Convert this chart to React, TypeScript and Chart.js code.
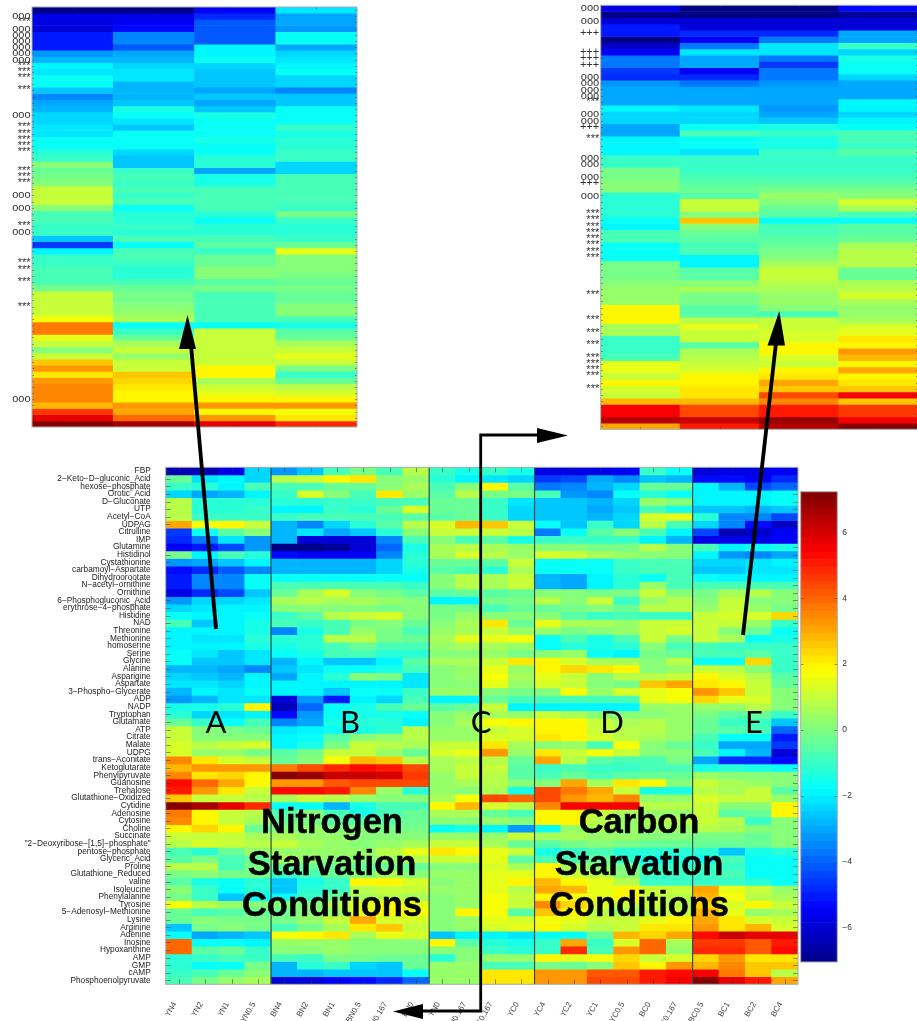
import React, { useEffect, useRef } from "react";
import { Chart, registerables } from "chart.js";

Chart.register(...registerables);

const columnLabels = ["YN4","YN2","YN1","YN0.5","BN4","BN2","BN1","BN0.5","BN0.167","BN0","YN0","YN0.167","YC0.167","YC0","YC4","YC2","YC1","YC0.5","BC0","BC0.167","BC0.5","BC1","BC2","BC4"];
const groupStarts = [4, 10, 14, 20];
const metaboliteLabels = ["FBP","2−Keto−D−gluconic_Acid","hexose−phosphate","Orotic_Acid","D−Gluconate","UTP","Acetyl−CoA","UDPAG","Citrulline","IMP","Glutamine","Histidinol","Cystathionine","carbamoyl−Aspartate","Dihydroorootate","N−acetyl−ornithine","Ornithine","6−Phosphogluconic_Acid","erythrose−4−phosphate","Histidine","NAD","Threonine","Methionine","homoserine","Serine","Glycine","Alanine","Asparigine","Aspartate","3−Phospho−Glycerate","ADP","NADP","Tryptophan","Glutamate","ATP","Citrate","Malate","UDPG","trans−Aconitate","Ketoglutarate","Phenylpyruvate","Guanosine","Trehalose","Glutathione−Oxidized","Cytidine","Adenosine","Cytosine","Choline","Succinate","\"2−Deoxyribose−[1,5]−phosphate\"","pentose−phosphate","Glyceric_Acid","Proline","Glutathione_Reduced","valine","Isoleucine","Phenylalanine","Tyrosine","5−Adenosyl−Methionine","Lysine","Arginine","Adenine","Inosine","Hypoxanthine","AMP","GMP","cAMP","Phosphoenolpyruvate"];

const rowFBP = [-6.5,-6.5,-5.7,-2.3, -3.3,-2.6,-0.8,-0.2,-0.9,0.7, -1,-1.4,-1,-1.5, -5.8,-5.8,-5.8,-5.5,-1,-1.8, -6,-5.8,-5.8,-5.5];
const rowKeto = [-0.3,-2.2,-1.9,-2.4, 0.8,0.9,2,2.1,0.2,0.3, -1.3,-1.9,-2.2,-2.4, -4.7,-4.4,-3,-3.6,-2.6,-2.8, -5.3,-5.2,-5.4,-4.8];
const rowHexose = [-1,-1.3,-1.9,-0.9, -0.7,-0.7,-0.3,-0.3,0.1,0.5, -0.7,0.2,1.8,-0.5, -3.7,-3.4,-2.9,-2.3,-0.3,-0.4, -2,-2.9,-4.4,-4];
const rowOrotic = [-2.4,-3,-2.8,-2, -1.1,1.2,0.2,-0.7,2.2,0.4, -0.5,0.7,-0.1,-0.2, -0.7,-3.2,-3.5,-1.8,-1.2,-1.8, -1.9,-1.9,-1.9,-1.8];
const rowGluconate = [0.8,-1.2,-1.2,-1.2, -1.2,-1.2,-1,-1,-0.9,-0.8, -0.4,-0.3,-1,-2.2, -2.6,-2.7,-2.9,-2.4,0.3,0.1, -1.9,-1.9,-1.9,-1.6];
const rowUTP = [0.7,-1.2,-1.2,-1.1, -1.9,-2,-1,-1.3,-0.3,1.3, -0.4,-0.3,-1,-2.3, -2.7,-2.7,-3,-2.5,-0.7,-1.4, -2.6,-2.7,-2.8,-2.7];
const rowAcetyl = [0.7,-1.1,-1.1,-1.1, -1,-0.9,-0.8,-0.8,-0.7,-0.6, -0.5,-0.4,-1,-2.3, -2.6,-2.6,-2.9,-2.4,1.3,1.5, -1.2,-3.5,-3.5,-4.5];
const rowUDPAG = [3.1,1.6,2,0.9, -2.9,-3.4,-2.3,-1.3,-0.5,0.7, 1.2,2.9,2.5,0.9, -1.7,-2.5,-1,-2.3,0.7,-0.8, -2.3,-3.4,-5.2,-6.3];
const rowCitrulline = [-4.7,-1.8,-0.5,0, -2.8,-2.2,-3,-2.5,-1.3,0, 0.9,1,1.1,0.8, -3.7,-1.8,-0.5,0.2,-0.8,-2, -4.5,-6.5,-6.2,-5.6];
const rowIMP = [-4.8,-3.8,-2.2,-3.2, -2.8,-6,-6,-6,-3.4,-0.8, 0.2,-0.9,-0.5,-1.4, -1,-1,-1,-1,-2,-2.9, -5.8,-5.8,-5.8,-5.4];
const rowGlutamine = [-5.6,-5,-4.3,-3.2, -7,-7,-6.8,-6,-4,-1.5, 0.5,0.8,0.5,0.3, 0,0,-0.2,-0.1,0.7,0, -0.8,-1.9,-1.8,-1.5];
const rowHistidinol = [-0.1,-2,-0.9,-1.2, -5.2,-5.6,-5.6,-5.4,-3.6,-1.3, 0.6,1.2,0.7,0.4, 1.2,1,0.5,0.4,0.2,0.2, -2,-3.2,-3.4,-3];
const rowCystathionine = [-3.3,-3,-2.5,-1.9, -2.9,-2.9,-2.9,-2.9,-2.3,-1.2, -0.3,-0.4,-0.6,1.1, -1.6,-1.6,-1.7,-1,-0.7,-0.7, -2.4,-2.4,-2.2,-2];
const rowCarbamoyl = [-5.2,-4.9,-4.2,-3.4, -2.9,-2.9,-2.9,-2.9,-2.4,-1.4, -0.5,-0.9,-1.2,0.6, -1.6,-1.6,-1.6,-1,-0.9,-0.8, -2.5,-2.5,-2.2,-2.1];
const rowDihydro = [-5,-3.6,-3.5,-1.7, -1.8,-1.8,-1.8,-1.8,-1.8,-1.8, 0.1,0.7,0.5,1.1, -2.8,-3,-2,-1.2,-1.7,-0.9, -1.6,-1.9,-1.9,-1.9];
const rowAcetylOrn = [-5,-3.6,-3.5,-1.7, -0.9,-0.8,-0.8,-0.8,-0.9,-1.1, 0.1,0.7,0.5,1.1, -2.8,-3,-2,-1.2,0.4,-0.7, -0.9,-0.9,-0.9,-0.9];
const rowOrnithine = [-5.8,-4.9,-4.4,-2.7, -0.4,0.5,1.3,0.1,-0.1,-0.5, -0.5,-0.4,-0.6,-0.4, 0,0,-0.1,-0.2,1,0, -0.1,0.6,0.7,0];
const rowPhosphoglu = [-3.3,-2.4,-2.3,-2.2, 0.6,0.7,0.5,0.5,0.3,0.2, -1.9,-1.9,-0.2,-0.1, 0.7,0.1,0.9,-1,0.4,0.8, 0.1,1,0.2,0];
const rowErythrose = [-2.3,-2.1,-1.9,-1.9, 0.1,0.1,0.1,0.1,-0.1,0.1, -0.2,-0.2,-0.9,-0.4, -0.4,-0.1,0.2,-0.3,0.7,0.7, 0.4,1,0.3,-0.1];
const rowHistidine = [-1.6,-1.9,-1.9,-1.8, -1,-0.6,0.7,1,1.3,0, -0.1,0.4,0,0.2, 0.2,-0.5,-1,-0.9,-1,-1, 0.9,1.3,1.2,2.3];
const rowNAD = [-0.9,-2.5,-1.9,-1.5, -0.9,-1.1,-0.9,-0.1,0.1,-0.4, 0,0.5,2.1,-0.3, 1.4,0.6,0.5,0.4,1,0.9, 1.1,1.1,0.4,-1.1];
const rowThreonine = [-1.9,-2,-1.9,-1.5, -3.4,-1.4,-0.7,0.4,-0.1,-0.7, 0.4,0.6,0.9,0.3, 0.3,-0.2,0.1,0.4,1.1,1.2, 1,0,-0.4,-1.6];
const rowMethionine = [-1.9,-2.1,-2.2,-1.3, -1.3,-1.2,0.7,0.8,-0.2,-0.3, 0.6,1.5,1.5,1.6, -1.6,-0.9,-1.5,-0.7,1,-0.1, 1,0.5,-1.7,-1.5];
const rowHomoserine = [-2,-1.9,-2,-1.5, -1.5,-1.3,-0.7,-0.3,-0.8,-0.9, 0.4,0.5,0.5,0.4, -1.6,-1.3,-1.5,-1.2,0,-0.7, -0.8,-1,-1.1,-1];
const rowSerine = [-1.8,-2.2,-2.5,-2.1, -1.6,-1.5,-0.9,-0.9,-1.3,-1.3, 0,0.1,0.3,-0.2, 0.2,0.4,-1.8,-1.9,-0.2,-0.3, -0.8,-0.7,-0.6,-1];
const rowGlycine = [-1.8,-2.5,-2.5,-2.2, -2.8,-1.9,-2.6,-2.5,-1.9,-0.5, 0.6,0.5,0.9,2.1, 1.9,1.2,0.6,0.6,0.1,0.7, -1.8,-1.8,2.3,-1];
const rowAlanine = [-2.9,-2.8,-3,-3.4, -2.5,-2.2,-1.7,-1.7,-1.5,-0.9, 0.2,0.4,1.5,0.4, 1.9,2.3,2.1,2,0.2,0.3, 1,0.7,0.1,-1.1];
const rowAsparigine = [-2.4,-2.5,-2.8,-2, -3,-1.9,-1.2,0,-0.2,-2.2, 0.1,0.3,1.6,0.6, 1.5,1.1,0.2,0.8,0.8,1, 1.8,1.2,0.7,-0.5];
const rowAspartate = [-2.2,-2.2,-2.3,-1.9, -2,-2,-2,-1.9,-1.9,-2.1, 0.1,0.1,1.5,0.4, 1.3,1,0,-0.2,2.5,3, 2.1,2,0.9,-0.3];
const rowPhosphoGly = [-2.8,-1.9,-2.2,-1.7, -2,-2,-2.5,-1.7,-1.6,-1, 0.4,0.3,0.1,-0.2, 0,1.6,0.3,1.3,1.4,1.6, 3.3,2.5,1,0];
const rowADP = [-3.2,-2.9,-2.2,-2.1, -6,-3.3,-5,-1.9,-2.3,-0.9, -1.9,-1.9,-0.4,-0.7, -0.8,-0.8,-0.8,-0.8,1.5,1.7, 2.3,1.5,1.3,0];
const rowNADP = [-1.5,-1.4,-1.2,2, -6.5,-4,-1.8,-1.5,-0.7,-0.3, -0.5,-0.4,0.9,-1.9, -1.9,-1.9,-1.9,-1.9,0.3,0.3, 0.4,0.4,0.7,0];
const rowTryptophan = [-1.2,-2.3,-2.2,-1.9, -5.2,-3.3,-1.7,-1.5,-1.4,-1.6, 0.1,0.3,0.5,0.3, 1.1,0.5,0.2,0.1,0.2,0.4, -0.1,-0.5,-0.4,-1];
const rowGlutamate = [-0.4,-1,-1.7,-0.8, -3.4,-3,-1.5,-1.3,-1.3,-1.9, 0.2,0.5,1.7,1.8, 2,1.9,0.9,0.5,0.7,0.3, -0.3,-1,-1,-2.7];
const rowATP = [1,0,-0.2,-0.3, -2.2,-2,-1.7,-1.5,-1.3,0.8, 0.3,0.3,1,1.2, 2,1.9,1,0.8,0.7,0.4, -0.4,-0.5,-0.8,-4];
const rowCitrate = [1,0.2,0.1,0.2, -2,-1.7,-0.5,0.1,0.3,0.7, 0.3,0.4,1.2,1.2, 2.2,2,1.2,0.8,0.6,0.3, -0.9,-1.7,-1.7,-5];
const rowMalate = [1.3,0.7,0.9,1.2, -1.9,-1.5,-0.2,0.9,0.7,0.6, 1,1,2.1,0.5, 0.2,0.4,-0.7,1.7,0,-0.3, -1,-3,-3.1,-4.6];
const rowUDPG = [1.2,0.3,0.4,-0.2, -0.5,-0.1,0.9,1,0.3,-0.3, 1.3,1.5,3.2,0.3, 2.2,0.9,1.7,0.9,0.2,0, -0.8,-1.9,-2.9,-5.9];
const rowAconitate = [3.4,2.2,1.2,1, -0.3,0.1,1.7,2.9,2.6,0.7, 0.5,0.7,0.8,-0.4, 3.1,0.7,-0.6,-0.7,-0.8,-0.2, -3,-4.8,-4.8,-5.3];
const rowKetoglutarate = [2.9,3.3,3.2,3.3, 3.8,4.3,4.8,5.2,5,4.3, 0.6,0.9,1.1,-0.5, -1,-0.9,-1.1,-1.1,-0.9,-0.8, -1.4,-1.3,-1.4,-1.8];
const rowPhenylpyruvate = [3.5,2.1,2.4,2, 7,6.9,6.2,6.2,6,4.6, 0.3,1,0.8,-0.5, -0.7,-0.4,-0.8,-0.5,-0.4,-0.4, 0.3,0.2,0.1,0];
const rowGuanosine = [5.3,4,3,2, 3.3,3.2,4.2,4.5,4.5,4.5, 0.4,0.6,0.8,0.2, 0,3,0.5,2.2,2,0, 0.9,0.5,0.4,0.1];
const rowTrehalose = [5,3.2,2.1,1.1, 5.3,5.2,5,3.5,0.3,-1.3, 0.3,0.2,0.5,-1.4, 4.5,3.6,3,0.9,-1.4,-1.4, 0.7,0.5,0.9,-0.6];
const rowGSSG = [2.6,1.1,1,0.8, 0.5,1.1,0.7,0.4,0.2,0.2, 0.6,1.7,4.3,3.9, 4.5,3.2,2.9,3.4,0.3,0.4, 1.2,1,1,0.4];
const rowCytidine = [7,6.7,5.7,4.8, -1.8,-1.7,-2.8,-1.5,-0.9,-0.8, 2,2.8,1.2,0.7, 3.5,5.4,5.4,5.5,0.8,0.8, 1,0,0.2,1.8];
const rowAdenosine = [3.7,2,0.9,0.7, -0.5,0,-0.8,-1.5,-0.7,-0.4, 0.6,0.5,-0.3,-0.9, 1.9,1.8,0.9,0.5,0.4,0.4, 1.1,-0.5,-0.3,1.8];
const rowCytosine = [3.4,2,1,0.5, -0.3,-0.2,-0.5,-0.5,-0.5,-0.3, 0.2,0.2,0.4,0.1, 1.8,2,0.8,0.4,0.6,0.8, 1,0.7,-1,0.2];
const rowCholine = [2,2.3,1.8,-0.4, 0,0.4,0.2,0,-0.1,-0.2, -1.7,-1.5,-1.9,-3.2, -1.6,0.4,0.5,0.4,0.3,0.3, 0.7,0.5,0.2,0];
const rowSuccinate = [0.9,1,1,0.6, 0.5,0.3,0.3,0.2,0.2,0.1, 0.3,0.3,0.4,1, 0.5,0.5,0.4,0.4,0.2,0.2, -0.2,-0.2,-0.3,0];
const rowDeoxyribose = [0.7,1.2,0.9,0.7, 0.9,0.6,0.3,0.2,0.3,0.6, 1,1,0.5,-0.3, -0.6,-0.1,0.1,-0.2,-0.3,-0.3, -0.3,-0.3,-0.3,0];
const rowPentose = [-0.8,-1.3,-0.3,0.4, 0.3,0.4,0.3,0.4,0.7,1.5, 2.1,2,1.5,0.9, -1.5,-1,-0.7,-1.3,-1.2,-1.3, -1.2,-2.6,-1.5,-1.3];
const rowGlyceric = [-0.5,-0.2,-0.8,-0.3, 0.5,0.3,0.2,0.2,0.3,0.8, 1,1,1.4,-0.5, -0.7,-0.7,-0.3,-1.2,-1.7,-1.5, -1.7,-0.8,-1.8,-1.7];
const rowProline = [0.7,0.7,-0.7,-0.2, -0.4,-0.3,-0.3,-0.3,-0.4,-0.3, 0.2,0.2,1.2,0.6, 1.8,0.5,0.2,-0.2,-1,-1, -1,-1,-1.8,-1.7];
const rowGSH = [-0.2,0.1,-0.2,-0.2, -1,-0.7,-0.4,0.2,0.6,0.1, 0.3,0.4,1.4,1.5, 1.9,1,0.7,0.2,-1,-1, -1,-0.8,-1.7,-1.6];
const rowValine = [-0.6,-1.4,-1.7,-1.2, -2.6,-1.4,-1.1,2,1.9,1.3, 0.2,0.3,1.5,1.9, 2.8,2,1.5,0.8,-1,-1, -1,-1,-1.3,-1.7];
const rowIsoleucine = [0,-1,-1.7,-1.2, -2.6,-1.2,-1,0.7,1,0.9, 0.3,0.3,1.4,0.7, 3,2.9,1.5,1.8,1,0.9, 3,1.5,1,0.4];
const rowPhenylalanine = [-0.2,-1,-2.6,-1.6, -1.7,-1,-0.4,0.5,0.7,0.6, 0.2,0.3,1.6,1.1, 2,1.7,1.5,1.8,0.9,0.7, 2.7,1.7,0.8,0.5];
const rowTyrosine = [1.6,0.7,0.3,0.1, 0,0,0.7,1.5,1.8,1.5, 0.2,0.4,1.7,1, 3.5,2.4,1.3,1,0.9,0.8, 2.3,1.2,1.9,1];
const rowSAM = [-0.4,-0.9,-0.5,-0.3, -0.4,0,0.3,1.5,1.8,1.7, 0.1,1.8,1.7,-0.6, 2.5,1.8,0.8,0.4,0.5,1.1, 2.7,1.5,0.3,0.5];
const rowLysine = [-0.4,0,-0.1,-0.2, -0.1,0.3,1,3,1.3,1.2, 0.2,0.4,1.4,1.2, 1.6,1.5,0.9,1.1,1.4,2, 3,2.2,1.3,1];
const rowArginine = [-2.5,-0.2,0,-0.1, -0.7,-0.1,0.6,2.1,2.5,1.1, 0.2,0.3,1.2,1.5, 1.9,1.2,0.7,1.1,2.2,2.2, 3.3,2.2,2.8,1.3];
const rowAdenine = [-1.8,-3,-2.9,-2.6, 1.7,1.9,2.1,0.6,1.4,1.2, -2.6,-1.9,-1.9,-2.1, -1.8,-1.8,-0.4,2.8,2.3,3, 5.3,6.2,5.8,5.7];
const rowInosine = [3.9,-1.8,-1.8,-1.9, 0.3,0.3,0.4,0.1,0.1,0.1, 1.9,-0.5,-1.3,-1.4, -1,3,-1,1.3,3.9,0.5, 4.7,4.7,4.2,5];
const rowHypoxanthine = [3.9,-0.6,-0.4,-1, 0.1,0.2,0.3,0.2,0.1,0.1, 0,0,-1.1,-1.2, -1,4.9,-0.7,3.3,3.9,0.3, 4.8,4.8,4.1,5.2];
const rowAMP = [-1.2,-1,-0.9,-1, -0.7,-1.1,-0.2,-0.2,-0.3,-0.3, -1.2,0.2,0.3,0.4, 2,1.5,1.7,2.4,1.1,1.3, 2.3,3.3,2.2,2.2];
const rowGMP = [-1.2,-1.8,-1.8,-0.2, -2.9,-1.2,-1,-2.4,-2.5,-0.3, 0.3,0.4,-0.9,-0.9, -0.2,-0.4,0,2.5,1.8,3.2, 2.8,3.5,2.5,2.5];
const rowCAMP = [-1,-0.9,-0.3,0, -2.9,-2.9,-2.7,-2.6,-2.6,-1.7, 0.3,0.4,2.1,2.2, 3.3,3.3,4.2,4.2,5,5.3, 5.4,3.8,2.6,0.7];
const rowPEP = [-0.9,-0.2,0.4,0.6, -6,-6,-5.6,-5.2,-4.9,-4, 0.3,0.4,2.1,2.1, 3.3,3.3,4.4,4.4,5,5.6, 7,5.8,5,3];

const mainRows = [rowFBP,rowKeto,rowHexose,rowOrotic,rowGluconate,rowUTP,rowAcetyl,rowUDPAG,rowCitrulline,rowIMP,rowGlutamine,rowHistidinol,rowCystathionine,rowCarbamoyl,rowDihydro,rowAcetylOrn,rowOrnithine,rowPhosphoglu,rowErythrose,rowHistidine,rowNAD,rowThreonine,rowMethionine,rowHomoserine,rowSerine,rowGlycine,rowAlanine,rowAsparigine,rowAspartate,rowPhosphoGly,rowADP,rowNADP,rowTryptophan,rowGlutamate,rowATP,rowCitrate,rowMalate,rowUDPG,rowAconitate,rowKetoglutarate,rowPhenylpyruvate,rowGuanosine,rowTrehalose,rowGSSG,rowCytidine,rowAdenosine,rowCytosine,rowCholine,rowSuccinate,rowDeoxyribose,rowPentose,rowGlyceric,rowProline,rowGSH,rowValine,rowIsoleucine,rowPhenylalanine,rowTyrosine,rowSAM,rowLysine,rowArginine,rowAdenine,rowInosine,rowHypoxanthine,rowAMP,rowGMP,rowCAMP,rowPEP];

const nitrogenColumns = ["YN4","YN2","YN1","YN0.5"];
const nitrogenInset = [[-7,-7,-5.6,-2.1],[-5.7,-5.7,-4.8,-3],[-5.7,-5.6,-4.2,-3.1],[-5.9,-5.2,-4.2,-3.2],[-5,-3.6,-4.2,-1.8],[-5,-3.6,-4.2,-1.8],[-5,-4.2,-1.9,-3.1],[-3.2,-3,-1.9,-2.4],[-2.8,-2.9,-1.7,-2.2],[-1.9,-2.3,-2.3,-1.9],[-2.1,-2.2,-2.7,-1.8],[-1.8,-2.1,-2.6,-2.3],[-1.8,-2.9,-2.7,-2.4],[-2.6,-2.9,-3.1,-3.4],[-3.4,-2.9,-2.6,-2.5],[-3.1,-2.7,-3,-2.5],[-2.9,-1.4,-2.7,-1.8],[-2.4,-1.7,-1.5,-1.8],[-2.4,-2.1,-1.6,-1.8],[-2.1,-2.5,-1.6,-1],[-2.1,-1.7,-1.7,-1.4],[-1.7,-1.7,-1.4,-1.3],[-1.7,-1.7,-1.8,-1.2],[-1.2,-2.4,-1.8,-1.1],[-1.1,-2.5,-1.3,-1],[0,-2.5,-1.2,-2.3],[-0.3,-1,-3,-2.3],[-0.2,-0.9,-1.5,-0.9],[0,-1,-1.4,-0.9],[0.9,-0.9,-0.9,-0.8],[0.9,-1,-0.8,-0.8],[0.9,-0.9,-0.8,-0.8],[0.1,-1.7,-0.9,-1],[-0.7,-1.3,-1.3,-0.2],[-0.9,-1.2,-1.7,-1.1],[-1,-1,-1.3,-1.3],[-1.1,-1.3,-1.2,-1.2],[-2.5,-0.7,-0.7,-1],[-4.6,-1.8,-0.5,-0.4],[-2,-0.8,-1.1,1.5],[-1,-0.9,-0.3,0],[-1,-1,-0.3,0],[-0.9,-1.2,0.2,0],[-0.9,-1.2,0,-0.1],[-0.8,-0.7,-0.6,-0.3],[-0.1,-0.3,-0.1,-0.2],[1,-0.1,-0.9,-0.3],[1,-0.1,-0.8,-0.3],[1,0.1,-0.8,0.2],[1,0.4,-0.8,0],[1.6,0.6,-0.7,-0.7],[3.8,-1.7,-1.7,-1.5],[3.8,-1,0.9,-0.5],[1.5,-0.4,1,-0.3],[1,0.5,1,0.5],[0,1,1,0.9],[1,0.4,1.1,1.4],[2.6,1,1.1,1],[3.2,1,2,-0.1],[2.1,2.5,2,-1],[3.3,2.4,0.6,-0.3],[3.5,2.2,1,0.7],[3.4,1.9,1.4,1.2],[3.4,2,2,1.9],[2.8,3.2,3.2,3.2],[4.7,3.1,2,1.6],[5.7,4,3.2,2.2],[7,6.7,5.7,4.8]];
const nitrogenCircles = [1,3,4,5,6,7,8,17,30,32,36,63];
const nitrogenStars = [2,9,10,11,13,19,20,21,22,23,26,27,28,35,41,42,44,48];
const nitrogenPlus: number[] = [];

const carbonColumns = ["BC0.5","BC1","BC2","BC4"];
const carbonInset = [[-5.8,-7,-7,-5.2],[-7,-7,-7,-6.8],[-5.9,-6,-6,-6],[-5,-6,-6,-6],[-5,-4.8,-4.8,-3],[-7,-5.6,-3.7,-3],[-6.2,-3.7,-2.2,-1],[-5.5,-2.1,-2.2,-2.3],[-3.8,-3,-3.7,-1.5],[-3.7,-3.1,-4.6,-1.7],[-4.6,-5.4,-3.8,-1.7],[-4.8,-4.8,-3.8,-2.3],[-3.3,-3.8,-3.3,-3],[-3,-3,-3,-3],[-3,-3,-3,-3],[-3,-3,-3,-1.9],[-1.9,-2.2,-3.2,-2],[-2.3,-2.3,-3,-2.4],[-2.3,-2.3,-2.5,-1.9],[-3,-1.6,-1.5,-1.6],[-3,-0.9,-1,-0.7],[-2,-1.8,-1.5,-0.9],[-1.9,-1.8,-1.5,-1],[-1.9,-2.1,-1.1,-0.6],[-1.1,-1.1,-1.1,-1.1],[-1.1,-1.1,-1.1,-1.1],[-0.2,-1.1,-1.1,-1],[-0.2,-0.8,-0.8,-0.8],[0,-0.5,-0.6,-0.5],[0,-0.4,-0.1,-0.2],[-1.3,-0.6,0.3,0.2],[-1.3,1,0.2,1.2],[-1.3,1,-0.3,0.5],[-1.3,0.2,-0.5,-0.8],[-1.8,2.5,-1.8,-1.8],[-1.9,0,-0.8,-0.5],[-0.9,-0.3,-0.7,-0.5],[-0.9,-0.5,-0.5,-0.3],[-1.7,-0.8,-0.3,0.5],[-1.8,-0.8,-0.1,0.7],[-1.8,-1.9,0,0.7],[-0.2,-1.9,0.5,0.8],[-0.1,-0.6,0.9,-0.4],[-0.1,-0.5,0.9,-0.4],[0,0.1,0.7,0.6],[0.3,0.5,0.6,0.8],[0.3,-0.2,0.4,1.2],[0.3,-0.2,0.4,0.6],[1.8,-0.6,0,0.4],[1.9,-0.6,-0.8,0.4],[1.9,0.8,1.1,0.6],[0.5,1.4,1.1,1.3],[0.5,1,1.2,1.5],[-1,0.9,1.2,2.2],[-1,-0.5,1.9,2],[-1,0.6,2,3.2],[-0.8,0.7,1.2,2.8],[1.5,0.9,1,2],[1.5,1.2,2,3],[1.1,1.8,2.2,2],[2,1.9,3,2.1],[1.2,2.2,2.5,2.5],[1,2.2,4.4,5.4],[2.8,2.8,3.4,2.6],[5.4,4.3,5,4.6],[5.4,4.3,5,4.6],[6.3,6.2,6.8,5.6],[3,5,6.3,7]];
const carbonCircles = [0,2,11,12,13,14,17,18,24,25,27,30];
const carbonStars = [15,21,33,34,35,36,37,38,39,40,46,50,52,54,56,57,58,59,61];
const carbonPlus = [4,7,8,9,19,28];

const colorLevels = [-7.2,-6.98,-6.75,-6.53,-6.3,-6.08,-5.85,-5.63,-5.4,-5.18,-4.95,-4.73,-4.5,-4.28,-4.05,-3.83,-3.6,-3.38,-3.15,-2.93,-2.7,-2.48,-2.25,-2.03,-1.8,-1.58,-1.35,-1.13,-0.9,-0.68,-0.45,-0.23,0,0.23,0.45,0.68,0.9,1.13,1.35,1.58,1.8,2.03,2.25,2.48,2.7,2.93,3.15,3.38,3.6,3.83,4.05,4.28,4.5,4.73,4.95,5.18,5.4,5.63,5.85,6.08,6.3,6.53,6.75,6.98,7.24];
const colorTicks = [-6,-4,-2,0,2,4,6];

const clamp01 = (n: number) => Math.max(0, Math.min(1, n));
function jet(v: number) {
  const idx = Math.max(0, Math.min(63, Math.floor(((v + 7.2) / 14.4) * 64)));
  const t = (idx + 0.5) / 64;
  const c = (k: number) => Math.round(255 * clamp01(1.5 - Math.abs(4 * t - k)));
  return `rgb(${c(3)},${c(2)},${c(1)})`;
}

type Rect = { x: number; y: number; w: number; h: number };
type Plot = { l: number; t: number; r: number; b: number };

function fixAxis(size: number, horizontal: boolean) {
  return (scale: any) => {
    if (horizontal) scale.height = size;
    else scale.width = size;
    scale.paddingLeft = scale.paddingRight = scale.paddingTop = scale.paddingBottom = 0;
  };
}

function tickPlugin(tickLen: number, separators: number[], frame: string) {
  return {
    id: "frameTicks",
    afterDatasetsDraw(chart: any) {
      const { ctx, chartArea: a, scales } = chart;
      const x = scales.x;
      const y = scales.y;
      ctx.save();
      ctx.lineWidth = 1;
      ctx.strokeStyle = "rgba(50,50,50,0.5)";
      ctx.beginPath();
      x.ticks.forEach((_: any, i: number) => {
        const p = Math.round(x.getPixelForTick(i)) + 0.5;
        ctx.moveTo(p, a.top); ctx.lineTo(p, a.top + tickLen);
        ctx.moveTo(p, a.bottom); ctx.lineTo(p, a.bottom - tickLen);
      });
      y.ticks.forEach((_: any, i: number) => {
        const p = Math.round(y.getPixelForTick(i)) + 0.5;
        ctx.moveTo(a.left, p); ctx.lineTo(a.left + tickLen, p);
        ctx.moveTo(a.right, p); ctx.lineTo(a.right - tickLen, p);
      });
      ctx.stroke();
      ctx.strokeStyle = "#3c4a4a";
      ctx.lineWidth = 1.2;
      ctx.beginPath();
      separators.forEach((s) => {
        const p = (x.getPixelForTick(s - 1) + x.getPixelForTick(s)) / 2;
        ctx.moveTo(p, a.top); ctx.lineTo(p, a.bottom);
      });
      ctx.stroke();
      ctx.strokeStyle = frame;
      ctx.lineWidth = 1;
      ctx.strokeRect(a.left, a.top, a.right - a.left, a.bottom - a.top);
      ctx.restore();
    },
  };
}

function heatChart(canvas: HTMLCanvasElement, box: Rect, plot: Plot, columns: string[], rows: number[][], yLabels: string[], opts: any) {
  return new Chart(canvas, {
    type: "bar",
    data: {
      labels: columns,
      datasets: rows.map((row, r) => ({
        data: row.map(() => [r, r + 1]),
        backgroundColor: row.map(jet),
        barPercentage: 1,
        categoryPercentage: 1,
        grouped: false,
        borderWidth: 0,
      })),
    } as any,
    plugins: [tickPlugin(opts.tickLen, opts.separators, "#a4adad")],
    options: {
      responsive: false,
      animation: false,
      events: [],
      layout: { padding: { left: 0, top: plot.t - box.y, right: box.x + box.w - plot.r, bottom: 0 } },
      plugins: { legend: { display: false }, tooltip: { enabled: false } },
      scales: {
        x: {
          afterFit: fixAxis(box.y + box.h - plot.b, true),
          grid: { display: false, drawTicks: false },
          border: { display: false },
          ticks: {
            display: opts.showX,
            autoSkip: false,
            minRotation: 60,
            maxRotation: 60,
            padding: 16,
            labelOffset: -4,
            color: "#444",
            font: { family: "Liberation Sans", size: 8 },
          },
        },
        y: {
          type: "linear",
          reverse: true,
          min: 0,
          max: rows.length,
          afterFit: fixAxis(plot.l - box.x, false),
          afterBuildTicks: (s: any) => { s.ticks = yLabels.map((_, i) => ({ value: i + 0.5 })); },
          grid: { display: false, drawTicks: false },
          border: { display: false },
          ticks: {
            autoSkip: false,
            padding: opts.yPad,
            color: opts.yColor,
            font: { family: "Liberation Sans", size: opts.ySize },
            callback: (_: any, i: number) => yLabels[i],
          },
        },
      },
    } as any,
  });
}

function markerLabels(n: number, circles: number[], stars: number[], plus: number[]) {
  return Array.from({ length: n }, (_, i) =>
    circles.includes(i) ? "ooo" : stars.includes(i) ? "***" : plus.includes(i) ? "+++" : ""
  );
}

const leftBox: Rect = { x: 0, y: 0, w: 362, h: 432 };
const leftPlot: Plot = { l: 32, t: 7, r: 357, b: 427 };
const rightBox: Rect = { x: 570, y: 0, w: 350, h: 434 };
const rightPlot: Plot = { l: 600.7, t: 5.3, r: 918, b: 429.3 };
const mainBox: Rect = { x: 0, y: 460, w: 802, h: 561 };
const mainPlot: Plot = { l: 165.7, t: 467.3, r: 798, b: 984.3 };
const barBox: Rect = { x: 796, y: 485, w: 121, h: 482 };
const barPlot: Plot = { l: 800.7, t: 491.7, r: 837.3, b: 962 };

const boxStyle = (b: Rect): React.CSSProperties => ({ position: "absolute", left: b.x, top: b.y, width: b.w, height: b.h });

const bigText: any = { fontFamily: "Liberation Sans", fontWeight: 700, fontSize: 34.5, textAnchor: "middle", fill: "#000", stroke: "#000", strokeWidth: 0.5 };
const letterText: any = { fontFamily: "Lato", fontSize: 31, textAnchor: "middle", fill: "#000" };

export default function App() {
  const left = useRef<HTMLCanvasElement>(null);
  const right = useRef<HTMLCanvasElement>(null);
  const main = useRef<HTMLCanvasElement>(null);
  const bar = useRef<HTMLCanvasElement>(null);

  useEffect(() => {
    const markOpts = { tickLen: 2, separators: [] as number[], showX: false, yPad: 1.5, yColor: "#333", ySize: 11 };
    const charts = [
      heatChart(left.current!, leftBox, leftPlot, nitrogenColumns, nitrogenInset, markerLabels(68, nitrogenCircles, nitrogenStars, nitrogenPlus), markOpts),
      heatChart(right.current!, rightBox, rightPlot, carbonColumns, carbonInset, markerLabels(68, carbonCircles, carbonStars, carbonPlus), markOpts),
      heatChart(main.current!, mainBox, mainPlot, columnLabels, mainRows, metaboliteLabels, { tickLen: 5, separators: groupStarts, showX: true, yPad: 15, yColor: "#222", ySize: 8.3 }),
      new Chart(bar.current!, {
        type: "bar",
        data: {
          labels: ["colour"],
          datasets: colorLevels.slice(0, -1).map((lo, i) => ({
            data: [[lo, colorLevels[i + 1]]],
            backgroundColor: jet((lo + colorLevels[i + 1]) / 2),
            barPercentage: 1,
            categoryPercentage: 1,
            grouped: false,
            borderWidth: 0,
          })),
        } as any,
        plugins: [{
          id: "barFrame",
          afterDatasetsDraw(chart: any) {
            const { ctx, chartArea: a, scales: { y } } = chart;
            ctx.save();
            ctx.strokeStyle = "rgba(50,50,50,0.5)";
            ctx.beginPath();
            y.ticks.forEach((_: any, i: number) => {
              const p = Math.round(y.getPixelForTick(i)) + 0.5;
              ctx.moveTo(a.left, p); ctx.lineTo(a.left + 3, p);
              ctx.moveTo(a.right, p); ctx.lineTo(a.right - 3, p);
            });
            ctx.stroke();
            ctx.strokeStyle = "#a4adad";
            ctx.strokeRect(a.left, a.top, a.right - a.left, a.bottom - a.top);
            ctx.restore();
          },
        }],
        options: {
          responsive: false,
          animation: false,
          events: [],
          layout: { padding: { left: barPlot.l - barBox.x, top: barPlot.t - barBox.y, right: 0, bottom: 0 } },
          plugins: { legend: { display: false }, tooltip: { enabled: false } },
          scales: {
            x: {
              afterFit: fixAxis(barBox.y + barBox.h - barPlot.b, true),
              grid: { display: false, drawTicks: false },
              border: { display: false },
              ticks: { display: false },
            },
            y: {
              type: "linear",
              position: "right",
              min: -7.05,
              max: 7.24,
              afterFit: fixAxis(barBox.x + barBox.w - barPlot.r, false),
              afterBuildTicks: (s: any) => { s.ticks = colorTicks.map((value) => ({ value })); },
              grid: { display: false, drawTicks: false },
              border: { display: false },
              ticks: {
                padding: 5,
                color: "#333",
                font: { family: "Liberation Sans", size: 8.5 },
                callback: (v: number) => String(v).replace("-", "−"),
              },
            },
          },
        } as any,
      }),
    ];
    return () => charts.forEach((c) => c.destroy());
  }, []);

  return (
    <div style={{ position: "absolute", left: 0, top: 0, width: 917, height: 1021, overflow: "hidden", background: "#fff" }}>
      <div style={{ position: "absolute", inset: 0, filter: "blur(0.5px)" }}>
        <canvas ref={left} width={leftBox.w} height={leftBox.h} style={boxStyle(leftBox)} />
        <canvas ref={right} width={rightBox.w} height={rightBox.h} style={boxStyle(rightBox)} />
        <canvas ref={main} width={mainBox.w} height={mainBox.h} style={boxStyle(mainBox)} />
        <canvas ref={bar} width={barBox.w} height={barBox.h} style={boxStyle(barBox)} />
        <svg width={917} height={1021} style={{ position: "absolute", left: 0, top: 0 }}>
          <g stroke="#000" strokeWidth={3.8} fill="none">
            <line x1={216} y1={629} x2={191} y2={345} />
            <line x1={743} y1={635} x2={776} y2={343} />
          </g>
          <g stroke="#000" strokeWidth={2.8} fill="none">
            <polyline points="538,435 480.7,435 480.7,1011 420,1011" />
          </g>
          <g fill="#000" stroke="none">
            <polygon points="187.5,315 179,349 196,349" />
            <polygon points="779.3,311 767.5,345.5 785,345.5" />
            <polygon points="568,435.5 537,428 537,443" />
            <polygon points="393,1011.5 423,1004 423,1019" />
          </g>
          <text x={216} y={733} {...letterText}>A</text>
          <text x={350} y={733} {...letterText}>B</text>
          <text x={481} y={733} {...letterText}>C</text>
          <text x={612} y={733} {...letterText}>D</text>
          <text x={754} y={733} {...letterText}>E</text>
          <text x={332} y={833} {...bigText}>Nitrogen</text>
          <text x={332} y={875} {...bigText}>Starvation</text>
          <text x={332} y={916} {...bigText}>Conditions</text>
          <text x={639} y={833} {...bigText}>Carbon</text>
          <text x={639} y={875} {...bigText}>Starvation</text>
          <text x={639} y={916} {...bigText}>Conditions</text>
        </svg>
      </div>
    </div>
  );
}
